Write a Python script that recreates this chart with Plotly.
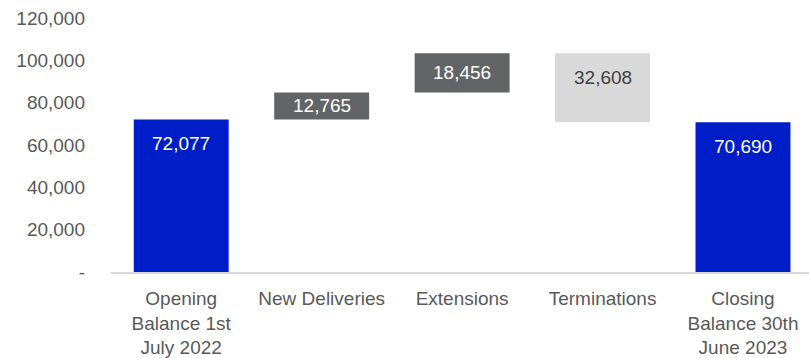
import plotly.graph_objects as go

# Lease portfolio movement over the financial year
categories = ["Opening<br>Balance 1st<br>July 2022", "New Deliveries", "Extensions",
              "Terminations", "Closing<br>Balance 30th<br>June 2023"]
measures = ["absolute", "relative", "relative", "relative", "total"]
values = [72077, 12765, 18456, -32608, 70690]

tick_vals = [0, 20000, 40000, 60000, 80000, 100000, 120000]
tick_text = ["-", "20,000", "40,000", "60,000", "80,000", "100,000", "120,000"]

BLUE = "#001EC8"
DARK = "#636466"
LIGHT = "#D9D9D9"
FONT = "Liberation Sans, Arial, Helvetica, sans-serif"
SIZE = 19

label_colors = ["white", "white", "white", "#404040", "white"]

fig = go.Figure(go.Waterfall(
    x=categories,
    y=values,
    measure=measures,
    increasing=dict(marker=dict(color=DARK)),
    decreasing=dict(marker=dict(color=LIGHT)),
    totals=dict(marker=dict(color=BLUE)),
    connector=dict(visible=False),
    width=0.676,
    hoverinfo="skip",
))

# Value labels: tall bars labelled just inside their top edge, short bars centred
running = 0
for cat, m, v, col in zip(categories, measures, values, label_colors):
    if m in ("absolute", "total"):
        lo, hi = 0, v
        running = v
    else:
        lo, hi = sorted([running, running + v])
        running += v
    if hi - lo > 25000:
        y, anchor, shift = hi, "top", -12
    else:
        y, anchor, shift = (lo + hi) / 2, "middle", 0
    fig.add_annotation(
        x=cat, y=y, text=f"{abs(v):,}", showarrow=False,
        yanchor=anchor, yshift=shift,
        font=dict(family=FONT, size=SIZE, color=col),
    )

fig.update_layout(
    width=809, height=358,
    margin=dict(l=111, r=0, t=18, b=84),
    paper_bgcolor="white", plot_bgcolor="white",
    showlegend=False,
    font=dict(family=FONT, size=SIZE, color="#595959"),
)
fig.update_xaxes(
    range=[-0.5, 4.47],
    showline=True, linecolor="#D9D9D9", linewidth=2,
    showgrid=False, ticks="", ticklabelstandoff=8,
    tickfont=dict(family=FONT, size=SIZE, color="#595959"),
)
fig.update_yaxes(
    range=[0, 120000], tickvals=tick_vals, ticktext=tick_text,
    showgrid=False, zeroline=False, showline=False, ticks="",
    ticklabelstandoff=25,
    tickfont=dict(family=FONT, size=SIZE, color="#595959"),
)

fig.write_html("out.html")
